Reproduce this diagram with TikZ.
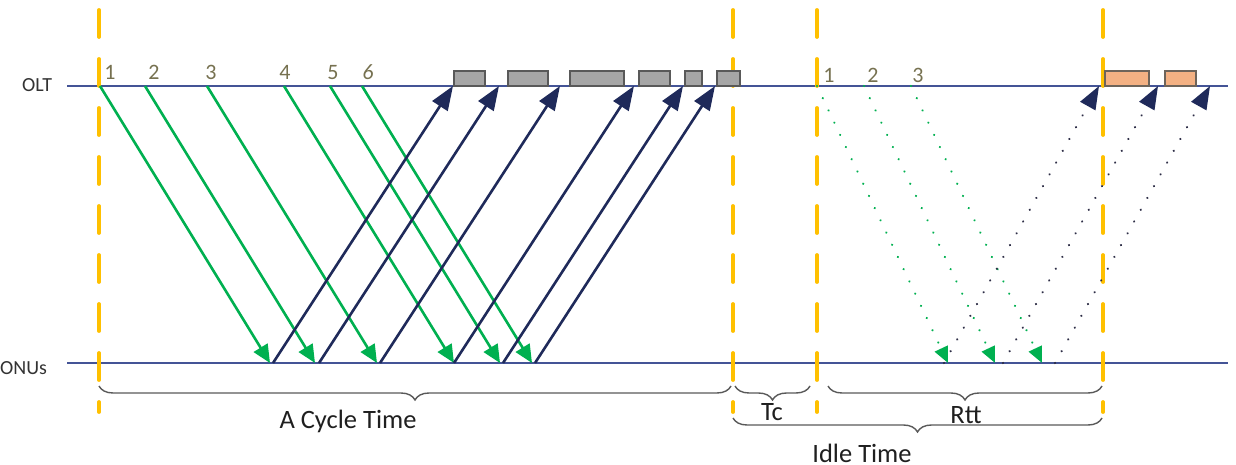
\documentclass[tikz,border=0pt]{standalone}
\usepackage{fontspec}
\setmainfont{Carlito}
\usetikzlibrary{arrows.meta,decorations.pathreplacing}
\definecolor{lineblue}{RGB}{68,84,150}
\definecolor{navy}{RGB}{31,42,90}
\definecolor{arrgreen}{RGB}{0,176,80}
\definecolor{gold}{RGB}{255,192,0}
\definecolor{numcol}{RGB}{118,113,80}
\definecolor{boxgray}{RGB}{166,166,166}
\definecolor{boxedge}{RGB}{89,89,89}
\definecolor{peach}{RGB}{244,177,131}
\definecolor{peachedge}{RGB}{110,100,90}
\definecolor{bracecol}{RGB}{89,89,89}
\definecolor{dotdark}{RGB}{45,45,70}
\begin{document}
\begin{tikzpicture}[x=1pt,y=-1pt,
  axis/.style={lineblue,line width=2.6pt},
  marker/.style={gold,line width=3.8pt,line cap=round,dash pattern=on 27pt off 22pt},
  downarr/.style={arrgreen,line width=2.6pt,-{Triangle[length=18pt,width=16pt]}},
  uparr/.style={navy,line width=2.6pt,-{Triangle[length=24pt,width=18pt]}},
  downdot/.style={arrgreen,line width=2.4pt,line cap=round,dash pattern=on 0.01pt off 13.5pt,-{Triangle[length=16pt,width=14pt]}},
  updot/.style={dotdark,line width=2.4pt,line cap=round,dash pattern=on 0.01pt off 13.5pt,-{Triangle[length=23pt,width=17pt,color=navy]}},
  gbox/.style={draw=boxedge,fill=boxgray,line width=1.1pt,inner sep=0pt,outer sep=0pt,minimum height=15pt,anchor=south west},
  obox/.style={draw=peachedge,fill=peach,line width=1.1pt,inner sep=0pt,outer sep=0pt,minimum height=15pt,anchor=south west},
  num/.style={numcol,font=\fontsize{22}{22}\selectfont,anchor=base,inner sep=0pt},
  lbl/.style={font=\fontsize{20}{20}\selectfont,text=black!80,inner sep=0pt},
  big/.style={font=\fontsize{26.5}{26.5}\selectfont,text=black!88,inner sep=0pt,anchor=base},
  brc/.style={bracecol,line width=1.4pt,decorate,decoration={brace,mirror,amplitude=14pt}}
]
\useasboundingbox (0,0) rectangle (1236,465);

% axes
\coordinate (oltL) at (67,86);  \coordinate (oltR) at (1228,86);
\coordinate (onuL) at (67,363); \coordinate (onuR) at (1228,363);
\draw[axis] (oltL) -- (oltR);
\draw[axis] (onuL) -- (onuR);
\node[lbl,anchor=base west] (olt) at (22,92) {OLT};
\node[lbl,anchor=base west] (onus) at (0,374) {ONUs};

% gold dashed markers
\foreach \x [count=\i] in {99,733,817,1103}{
  \coordinate (mt\i) at (\x,10);
  \coordinate (mb\i) at (\x,412);
  \draw[marker] (mt\i) -- (mb\i);
}

% gray boxes
\node[gbox,minimum width=31pt] (g1) at (454,86) {};
\node[gbox,minimum width=40pt] (g2) at (508,86) {};
\node[gbox,minimum width=54pt] (g3) at (570,86) {};
\node[gbox,minimum width=31pt] (g4) at (639,86) {};
\node[gbox,minimum width=17pt] (g5) at (685,86) {};
\node[gbox,minimum width=23pt] (g6) at (717,86) {};
% orange boxes
\node[obox,minimum width=44pt] (o1) at (1105,86) {};
\node[obox,minimum width=31pt] (o2) at (1165,86) {};

% green downstream arrows
\foreach \x [count=\i] in {100,145,207,284,330,362}{
  \coordinate (s\i) at (\x,86);
  \coordinate (r\i) at (\x+170,363);
  \draw[downarr] (s\i) -- (r\i);
}
% navy upstream arrows
\foreach \x [count=\i] in {453,499,560,634,683,715}{
  \coordinate (u\i) at (\x-180,363);
  \coordinate (t\i) at (\x,86);
  \draw[uparr] (u\i) -- (t\i);
}
% dotted green
\foreach \x [count=\i] in {817,864,911}{
  \coordinate (ds\i) at (\x,86);
  \coordinate (dr\i) at (\x+131,363);
  \draw[downdot] (ds\i) -- (dr\i);
}
% dotted navy
\foreach \a/\b [count=\i] in {944/1099,1003/1158,1055/1210}{
  \coordinate (du\i) at (\a,363);
  \coordinate (dt\i) at (\b,86);
  \draw[updot] (du\i) -- (dt\i);
}

% numbers
\node[num] (n1) at (110,80) {1};
\node[num] (n2) at (154,80) {2};
\node[num] (n3) at (211,80) {3};
\node[num] (n4) at (285,80) {4};
\node[num] (n5) at (333,80) {5};
\node[num] (n6) at (368,80) {\itshape 6};
\node[num] (m1) at (829,83) {1};
\node[num] (m2) at (873,83) {2};
\node[num] (m3) at (918,83) {3};

% braces
\coordinate (b1a) at (99,386);  \coordinate (b1b) at (731,386);
\coordinate (b2a) at (735,386); \coordinate (b2b) at (810,386);
\coordinate (b3a) at (828,386); \coordinate (b3b) at (1102,386);
\coordinate (b4a) at (733,418); \coordinate (b4b) at (1102,418);
\draw[brc] (b1a) -- (b1b);
\draw[brc] (b2a) -- (b2b);
\draw[brc] (b3a) -- (b3b);
\draw[brc] (b4a) -- (b4b);
\node[big] (cyc) at (348,428) {A Cycle Time};
\node[big] (tc) at (772,420) {Tc};
\node[big] (rtt) at (966,423) {Rtt};
\node[big,text depth=0pt] (idle) at (862,462) {Idle Time};
\end{tikzpicture}
\end{document}
